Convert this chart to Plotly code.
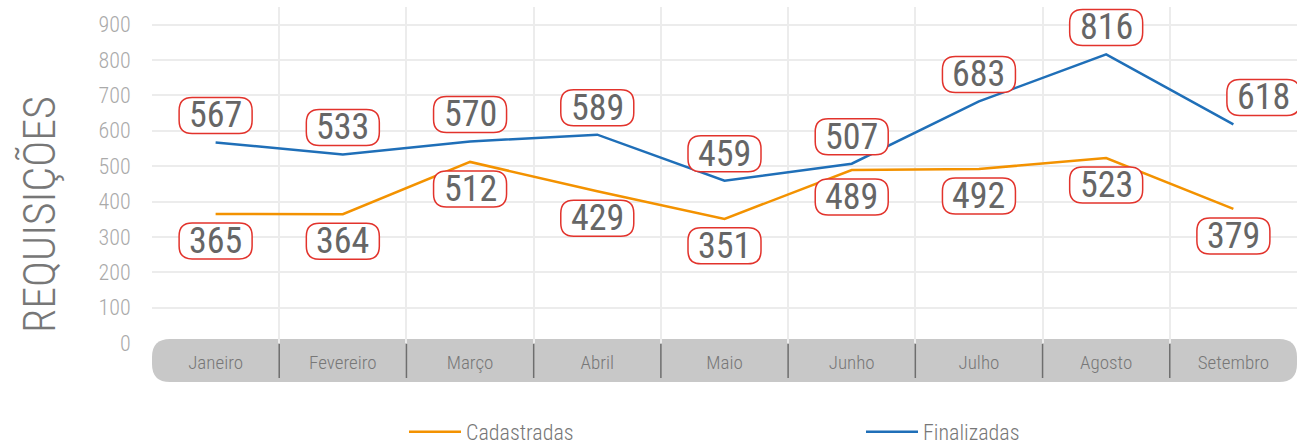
import plotly.graph_objects as go

meses = ["Janeiro", "Fevereiro", "Março", "Abril", "Maio", "Junho", "Julho", "Agosto", "Setembro"]
cadastradas = [365, 364, 512, 429, 351, 489, 492, 523, 379]
finalizadas = [567, 533, 570, 589, 459, 507, 683, 816, 618]

FONT = "Roboto Condensed, Liberation Sans Narrow, DejaVu Sans Condensed, sans-serif"
W, H = 1297, 448
M = {"l": 152, "r": 0, "t": 7, "b": 105, "autoexpand": False}
PW = W - M["l"] - M["r"]
PH = H - M["t"] - M["b"]


def rounded_box(w, h, r, dx=0, dy=0):
    # caixa arredondada em pixels, centrada em (dx, dy) relativo ao ponto
    x0, x1 = dx - w / 2, dx + w / 2
    y0, y1 = dy - h / 2, dy + h / 2
    return (f"M{x0 + r},{y0} L{x1 - r},{y0} Q{x1},{y0} {x1},{y0 + r} "
            f"L{x1},{y1 - r} Q{x1},{y1} {x1 - r},{y1} L{x0 + r},{y1} "
            f"Q{x0},{y1} {x0},{y1 - r} L{x0},{y0 + r} Q{x0},{y0} {x0 + r},{y0} Z")


fig = go.Figure()

fig.add_trace(go.Scatter(x=meses, y=cadastradas, name="Cadastradas", mode="lines",
                         line={"color": "#f39200", "width": 2.5}))
fig.add_trace(go.Scatter(x=meses, y=finalizadas, name="Finalizadas", mode="lines",
                         line={"color": "#1f6fb8", "width": 2.5}))

shapes = []
annotations = []

# rótulos de dados
for serie, sinal in ((finalizadas, 1), (cadastradas, -1)):
    for i, (m, v) in enumerate(zip(meses, serie)):
        dx = 30 if (sinal == 1 and i == len(meses) - 1) else 0
        dy = 27 * sinal
        shapes.append(dict(
            type="path", xref="x", yref="y", xsizemode="pixel", ysizemode="pixel",
            xanchor=m, yanchor=v, path=rounded_box(73, 36, 13, dx, dy),
            line={"color": "#e2332c", "width": 1.5}, fillcolor="white", layer="above",
        ))
        annotations.append(dict(
            x=m, y=v, text=str(v), showarrow=False, xshift=dx, yshift=dy,
            font={"family": FONT, "size": 36, "color": "#666666"},
        ))

# faixa cinza das categorias
ry_top = 4 / PH
ry_bot = -39 / PH
rx = 18 / PW
rr = 18 / PH
shapes.append(dict(
    type="path", xref="paper", yref="paper", layer="between",
    path=(f"M{rx},{ry_top} L{1 - rx},{ry_top} Q1,{ry_top} 1,{ry_top - rr} "
          f"L1,{ry_bot + rr} Q1,{ry_bot} {1 - rx},{ry_bot} L{rx},{ry_bot} "
          f"Q0,{ry_bot} 0,{ry_bot + rr} L0,{ry_top - rr} Q0,{ry_top} {rx},{ry_top} Z"),
    fillcolor="#c8c8c8", line={"width": 0},
))
for i in range(len(meses) - 1):
    shapes.append(dict(
        type="line", xref="x", yref="paper", x0=i + 0.5, x1=i + 0.5,
        y0=-1 / PH, y1=-35 / PH, line={"color": "#6e6e6e", "width": 1.5}, layer="between",
    ))

annotations.append(dict(
    text="REQUISIÇÕES", textangle=-90, showarrow=False,
    xref="paper", yref="paper", x=-112 / PW, y=128 / PH,
    xanchor="center", yanchor="middle",
    font={"family": FONT, "size": 44, "color": "#777777", "weight": 300},
))

fig.update_layout(
    width=W, height=H,
    margin=M,
    plot_bgcolor="white",
    paper_bgcolor="white",
    showlegend=True,
    legend={"orientation": "h", "x": (404 - M["l"]) / PW, "xanchor": "left", "y": -89 / PH,
            "yanchor": "middle", "itemwidth": 52, "entrywidth": 390, "entrywidthmode": "pixels",
            "font": {"family": FONT, "size": 22, "color": "#777777", "weight": 300}},
    xaxis=dict(
        type="category", range=[-0.5, 8.5], tickson="boundaries",
        showgrid=True, gridcolor="#ececec", gridwidth=1.5,
        ticks="", showline=False, zeroline=False,
        ticklabelstandoff=6,
        tickfont={"family": FONT, "size": 19, "color": "#777777", "weight": 300},
    ),
    yaxis=dict(
        range=[0, 950], tickvals=list(range(0, 1000, 100)),
        showgrid=True, gridcolor="#ececec", gridwidth=1.5,
        zeroline=False, showline=False,
        ticks="outside", ticklen=16, tickcolor="rgba(0,0,0,0)",
        tickfont={"family": FONT, "size": 22, "color": "#aaaaaa", "weight": 300},
    ),
    shapes=shapes,
    annotations=annotations,
)

fig.write_html("out.html", config={"displayModeBar": False},
               post_script="document.body.style.margin = '0';")
